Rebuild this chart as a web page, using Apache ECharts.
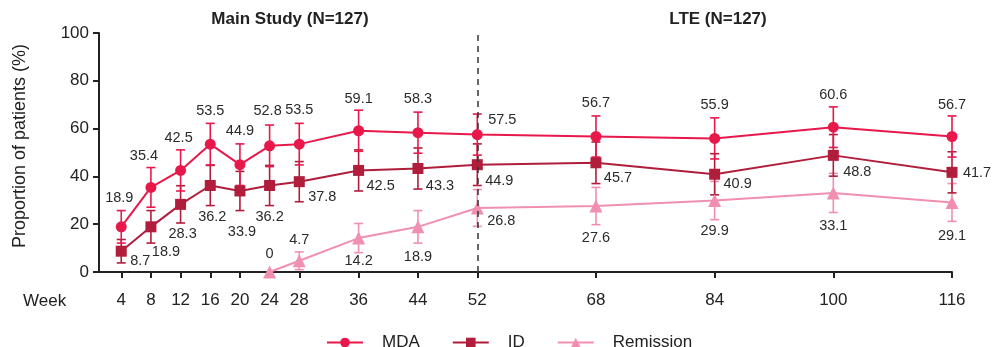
<!DOCTYPE html>
<html><head><meta charset="utf-8">
<script src="https://cdn.jsdelivr.net/npm/echarts@6/dist/echarts.min.js"></script>
<style>html,body{margin:0;padding:0;background:#fff}#c{width:994px;height:347px}</style>
</head><body><div id="c"></div>
<script>
// ---- data ----
const weeks = [4, 8, 12, 16, 20, 24, 28, 36, 44, 52, 68, 84, 100, 116];
const mdaValues = [18.9, 35.4, 42.5, 53.5, 44.9, 52.8, 53.5, 59.1, 58.3, 57.5, 56.7, 55.9, 60.6, 56.7];
const idValues = [8.7, 18.9, 28.3, 36.2, 33.9, 36.2, 37.8, 42.5, 43.3, 44.9, 45.7, 40.9, 48.8, 41.7];
const remWeeks = [24, 28, 36, 44, 52, 68, 84, 100, 116];
const remValues = [0, 4.7, 14.2, 18.9, 26.8, 27.6, 29.9, 33.1, 29.1];
// error bar half-widths
const mdaErr = [6.8, 8.3, 8.6, 8.7, 8.7, 8.7, 8.7, 8.6, 8.6, 8.6, 8.6, 8.6, 8.5, 8.6];
const idErr = [4.9, 6.8, 7.8, 8.4, 8.2, 8.4, 8.4, 8.6, 8.6, 8.7, 8.7, 8.6, 8.7, 8.6];
const remErr = [0, 3.7, 6.1, 6.8, 7.7, 7.8, 8.0, 8.2, 7.9];
const yTicks = [0, 20, 40, 60, 80, 100];

// ---- label offsets (style) ----
const mdaLab = [[-2,-29],[-7,-31],[-2,-32],[0,-33],[0,-34],[-2,-35],[0,-34],[0,-32],[0,-34],[25,-15],[0,-33],[0,-33],[0,-32],[0,-31]];
const idLab = [[19,10],[15,25],[2,30],[2,32],[2,41],[0,32],[23,15],[22,16],[22,17],[22,16],[22,15],[23,10],[24,17],[25,1]];
const remLab = [[0,-18],[0,-21],[0,23],[0,30],[24,13],[0,32],[0,30],[0,33],[0,34]];

const C_MDA = '#E8184B', C_ID = '#B01E3B', C_REM = '#F08FB0';
const FONT = 'Liberation Sans, Arial, Helvetica, sans-serif';

function lineData(xs, vs, offs) {
  return xs.map((x, i) => ({ value: [x, vs[i]], label: { offset: offs[i] } }));
}
function errData(xs, vs, es) {
  return xs.map((x, i) => [x, vs[i] - es[i], vs[i] + es[i]]);
}
function errSeries(name, xs, vs, es, color) {
  return {
    type: 'custom', name: name + '_err', silent: true, z: 1,
    data: errData(xs, vs, es),
    encode: { x: 0, y: [1, 2] },
    renderItem: function (params, api) {
      const x = api.value(0), lo = api.value(1), hi = api.value(2);
      if (hi - lo <= 0) return { type: 'group', children: [] };
      const a = api.coord([x, hi]), b = api.coord([x, lo]);
      const w = 4.5;
      const st = { stroke: color, lineWidth: 1.6 };
      return { type: 'group', children: [
        { type: 'line', shape: { x1: a[0], y1: a[1], x2: b[0], y2: b[1] }, style: st },
        { type: 'line', shape: { x1: a[0] - w, y1: a[1], x2: a[0] + w, y2: a[1] }, style: st },
        { type: 'line', shape: { x1: b[0] - w, y1: b[1], x2: b[0] + w, y2: b[1] }, style: st }
      ] };
    }
  };
}
const labelBase = {
  show: true, position: 'inside', color: '#2b2b2b', fontSize: 14.5, fontFamily: FONT,
  formatter: p => String(p.value[1])
};

const chart = echarts.init(document.getElementById('c'), null, { renderer: 'canvas' });
chart.setOption({
  animation: false,
  backgroundColor: '#fff',
  textStyle: { fontFamily: FONT },
  grid: { left: 99, right: 42, top: 33, bottom: 75, containLabel: false },
  xAxis: {
    type: 'value', min: 1, max: 116,
    splitLine: { show: false },
    axisLine: { show: true, onZero: false, lineStyle: { color: '#222', width: 2 } },
    axisTick: { show: true, customValues: weeks, length: 6, lineStyle: { color: '#222', width: 2 } },
    axisLabel: { customValues: weeks, color: '#222', fontSize: 17, margin: 20, fontFamily: FONT }
  },
  yAxis: {
    type: 'value', min: 0, max: 100, interval: 20,
    splitLine: { show: false },
    axisLine: { show: true, lineStyle: { color: '#222', width: 2 } },
    axisTick: { show: true, length: 6, lineStyle: { color: '#222', width: 2 } },
    axisLabel: { color: '#222', fontSize: 17, margin: 10, fontFamily: FONT,
      formatter: v => yTicks.includes(v) ? String(v) : '' }
  },
  legend: {
    top: 329, left: 321, data: ['MDA', 'ID', 'Remission'],
    itemWidth: 36, itemHeight: 12, itemGap: 32,
    textStyle: { fontSize: 17, color: '#222', fontFamily: FONT, padding: [0, 0, 0, 14] }
  },
  graphic: [
    { type: 'text', x: 20, y: 146, rotation: Math.PI / 2, style: { text: 'Proportion of patients (%)', fontSize: 18, fill: '#222', align: 'center', verticalAlign: 'middle', fontFamily: FONT } },
    { type: 'text', left: 23, top: 293, style: { text: 'Week', fontSize: 17, fill: '#222', fontFamily: FONT } },
    { type: 'text', x: 290, y: 19, style: { text: 'Main Study (N=127)', fontSize: 17, fontWeight: 'bold', fill: '#222', align: 'center', verticalAlign: 'middle', fontFamily: FONT } },
    { type: 'text', x: 718, y: 19, style: { text: 'LTE (N=127)', fontSize: 17, fontWeight: 'bold', fill: '#222', align: 'center', verticalAlign: 'middle', fontFamily: FONT } }
  ],
  series: [
    errSeries('Remission', remWeeks, remValues, remErr, C_REM),
    errSeries('ID', weeks, idValues, idErr, C_ID),
    errSeries('MDA', weeks, mdaValues, mdaErr, C_MDA),
    {
      name: 'Remission', type: 'line', z: 3, symbol: 'triangle', symbolSize: 13,
      data: lineData(remWeeks, remValues, remLab),
      lineStyle: { color: C_REM, width: 2 }, itemStyle: { color: C_REM },
      label: labelBase,
      markLine: {
        silent: true, symbol: 'none', label: { show: false },
        lineStyle: { color: '#333', type: [6, 5], width: 1.5 },
        data: [{ xAxis: 52 }]
      }
    },
    {
      name: 'ID', type: 'line', z: 4, symbol: 'rect', symbolSize: 11,
      data: lineData(weeks, idValues, idLab),
      lineStyle: { color: C_ID, width: 2 }, itemStyle: { color: C_ID },
      label: labelBase
    },
    {
      name: 'MDA', type: 'line', z: 5, symbol: 'circle', symbolSize: 11,
      data: lineData(weeks, mdaValues, mdaLab),
      lineStyle: { color: C_MDA, width: 2 }, itemStyle: { color: C_MDA },
      label: labelBase
    }
  ]
});
</script></body></html>
